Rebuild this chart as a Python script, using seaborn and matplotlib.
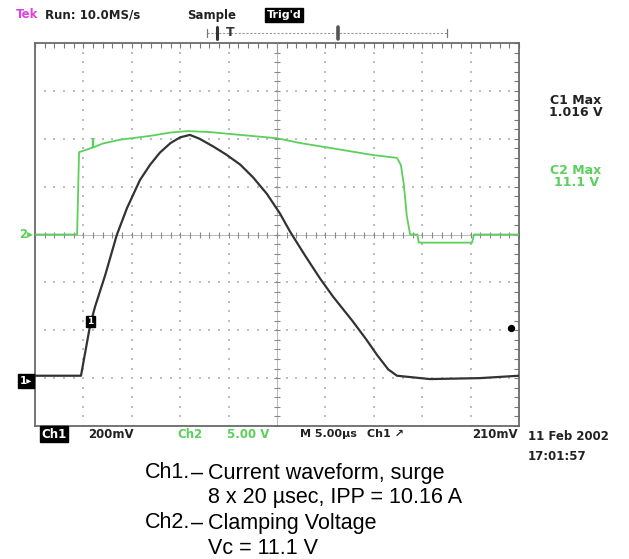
import numpy as np
import matplotlib
matplotlib.use("Agg")
import matplotlib.pyplot as plt
import seaborn as sns

# ---- data (screen divisions: x 0..10, y -4..4, 0 = centre line) ----
ch2_x = [0.0, 0.87, 0.91, 1.18, 1.40, 1.76, 2.38, 2.80, 3.16, 3.60, 4.03, 5.0, 5.48,
         6.15, 6.98, 7.48, 7.56, 7.62, 7.68, 7.75, 7.90, 7.93, 9.03, 9.07, 10.0]
ch2_y = [0.0, 0.0, 1.72, 1.81, 1.90, 1.98, 2.06, 2.13, 2.16, 2.14, 2.10, 2.01, 1.91,
         1.80, 1.66, 1.60, 1.45, 1.05, 0.40, 0.0, 0.0, -0.17, -0.17, 0.0, 0.0]

ch1_x = [0.0, 0.95, 1.14, 1.24, 1.45, 1.69, 1.90, 2.17, 2.38, 2.58, 2.80, 3.00, 3.20,
         3.40, 3.68, 3.95, 4.24, 4.50, 4.79, 5.06, 5.27, 5.58, 5.89, 6.16, 6.57, 6.85,
         7.07, 7.30, 7.48, 8.16, 9.19, 10.0]
ch1_y = [-2.95, -2.95, -1.89, -1.51, -0.85, -0.01, 0.55, 1.14, 1.46, 1.71, 1.91, 2.03, 2.08,
         2.00, 1.84, 1.67, 1.46, 1.20, 0.85, 0.44, 0.06, -0.44, -0.92, -1.30, -1.82, -2.20,
         -2.52, -2.82, -2.95, -3.02, -3.00, -2.95]

header = ["Tek", "Run: 10.0MS/s", "Sample", "Trig'd"]
readout = ["C1 Max", "1.016 V", "C2 Max", "11.1 V"]
footer = ["Ch1", "200mV", "Ch2", "5.00 V", "M 5.00\u00b5s", "Ch1 \u2197", "210mV",
          "11 Feb 2002", "17:01:57"]
caption = [("Ch1.", "Current waveform, surge"),
           ("", "8 x 20 \u00b5sec, IPP = 10.16 A"),
           ("Ch2.", "Clamping Voltage"),
           ("", "Vc = 11.1 V")]

GREEN = "#5ccf5c"
DARK = "#333333"

sns.set_style("white")
plt.rcParams['font.family'] = ['DejaVu Sans']

W, H = 629, 559
fig = plt.figure(figsize=(W / 100, H / 100), dpi=100)
fig.patch.set_facecolor("white")

L, R, T, B = 35, 519, 43, 426
ax = fig.add_axes([L / W, 1 - B / H, (R - L) / W, (B - T) / H])
ax.set_xlim(0, 10)
ax.set_ylim(-4, 4)

def fx(px):
    return px / W

def fy(py):
    return 1 - py / H

# grid dots
for k in range(1, 10):
    if k == 5:
        continue
    yy = np.arange(-4, 4.01, 0.2)
    ax.scatter(np.full_like(yy, k), yy, s=1.2, marker="s", color="#bdbdbd", lw=0)
for k in range(-3, 4):
    if k == 0:
        continue
    xx = np.arange(0, 10.01, 0.2)
    ax.scatter(xx, np.full_like(xx, k), s=1.2, marker="s", color="#bdbdbd", lw=0)

# centre cross with ticks
ax.axhline(0, color="#b0b0b0", lw=0.6, zorder=1)
ax.axvline(5, color="#b0b0b0", lw=0.6, zorder=1)
xt = np.arange(0, 10.01, 0.2)
yt = np.arange(-4, 4.01, 0.2)
ax.scatter(xt, np.zeros_like(xt), marker="|", s=14, color="#888888", lw=0.8, zorder=1)
ax.scatter(np.full_like(yt, 5), yt, marker="_", s=14, color="#888888", lw=0.8, zorder=1)

# border ticks
ax.set_xticks(np.arange(0, 10.01, 1))
ax.set_yticks(np.arange(-4, 4.01, 1))
ax.set_xticks(np.arange(0, 10.01, 0.2), minor=True)
ax.set_yticks(np.arange(-4, 4.01, 0.2), minor=True)
ax.tick_params(which="both", direction="in", length=3.5, width=0.8, color="#777777",
               top=True, right=True, labelbottom=False, labelleft=False)
for s in ax.spines.values():
    s.set_color("#6a6a6a")
    s.set_linewidth(1.3)

# traces
sns.lineplot(x=ch2_x, y=ch2_y, ax=ax, sort=False, estimator=None, color=GREEN, lw=1.3, zorder=3)
sns.lineplot(x=ch1_x, y=ch1_y, ax=ax, sort=False, estimator=None, color=DARK, lw=1.6, zorder=4)
ax.set_xlabel("")
ax.set_ylabel("")

# in-graticule markers
ax.text(1.18, 1.87, "I", color=GREEN, family="DejaVu Serif", fontsize=9, fontweight="bold",
        ha="center", va="center", zorder=5)
ax.text(1.14, -1.82, "1", color="white", fontsize=6.5, fontweight="bold", ha="center", va="center",
        zorder=6, bbox=dict(boxstyle="square,pad=0.15", fc="black", ec="black"))
ax.scatter([9.83], [-1.95], s=18, color="black", zorder=6)

# left channel markers
fig.text(fx(26), fy(381), "1\u25b8", color="white", fontsize=7.5, fontweight="bold", ha="center",
         va="center", bbox=dict(boxstyle="square,pad=0.15", fc="black", ec="black"))
fig.text(fx(26), fy(235), "2\u25b8", color=GREEN, fontsize=8.5, fontweight="bold", ha="center",
         va="center")

# header
fig.text(fx(16), fy(15), header[0], color="#e040e0", fontsize=8.5, fontweight="bold", va="center")
fig.text(fx(45), fy(15), header[1], color="#222222", fontsize=8.5, fontweight="bold", va="center")
fig.text(fx(187), fy(15), header[2], color="#222222", fontsize=8.5, fontweight="bold", va="center")
fig.text(fx(284), fy(15), header[3], color="white", fontsize=8, fontweight="bold", va="center",
         ha="center", bbox=dict(boxstyle="square,pad=0.15", fc="black", ec="black"))

# trigger position bracket
by = fy(33)
fig.add_artist(plt.Line2D([fx(207), fx(447)], [by, by], color="#9a9a9a", lw=0.8, ls=(0, (2, 1.5))))
for xp in (207, 447):
    fig.add_artist(plt.Line2D([fx(xp), fx(xp)], [fy(29), fy(37)], color="#777777", lw=0.9))
fig.add_artist(plt.Line2D([fx(217), fx(217)], [fy(27), fy(39)], color="#333333", lw=2.2))
fig.add_artist(plt.Line2D([fx(338), fx(338)], [fy(27), fy(39)], color="#555555", lw=2.6))
fig.text(fx(230), fy(33), "T", color="#333333", fontsize=9, fontweight="bold", ha="center", va="center")
fig.add_artist(plt.Line2D([fx(277), fx(277)], [fy(43), fy(53)], color="#999999", lw=0.8))

# right readouts
for txt, py, col in zip(readout, (100, 113, 170, 183), ("#222222", "#222222", GREEN, GREEN)):
    fig.text(fx(576), fy(py), txt, color=col, fontsize=9, fontweight="bold", ha="center", va="center")

# footer readouts
ry = fy(434)
fig.text(fx(54), ry, footer[0], color="white", fontsize=8.5, fontweight="bold", ha="center", va="center",
         bbox=dict(boxstyle="square,pad=0.15", fc="black", ec="black"))
fig.text(fx(88), ry, footer[1], color="#222222", fontsize=8.5, fontweight="bold", va="center")
fig.text(fx(177), ry, footer[2], color=GREEN, fontsize=8.5, fontweight="bold", va="center")
fig.text(fx(227), ry, footer[3], color=GREEN, fontsize=8.5, fontweight="bold", va="center")
fig.text(fx(300), ry, footer[4], color="#222222", fontsize=8, fontweight="bold", va="center")
fig.text(fx(367), ry, footer[5], color="#222222", fontsize=8, fontweight="bold", va="center")
fig.text(fx(518), ry, footer[6], color="#222222", fontsize=8.5, fontweight="bold", va="center", ha="right")
fig.text(fx(528), fy(437), footer[7], color="#222222", fontsize=8.5, fontweight="bold", va="center")
fig.text(fx(528), fy(457), footer[8], color="#222222", fontsize=8.5, fontweight="bold", va="center")

# caption
cap_font = ["Liberation Sans", "DejaVu Sans"]
for i, (lead, body) in enumerate(caption):
    yy = fy(473 + 25 * i)
    if lead:
        fig.text(fx(190), yy, lead, color="black", fontsize=15.5, family=cap_font,
                 va="center", ha="right")
        fig.text(fx(191), yy, "\u2013", color="black", fontsize=15.5, family=cap_font,
                 va="center", ha="left")
    fig.text(fx(208), yy, body, color="black", fontsize=15.5, family=cap_font, va="center")

fig.savefig("out.png", dpi=100, facecolor="white")
